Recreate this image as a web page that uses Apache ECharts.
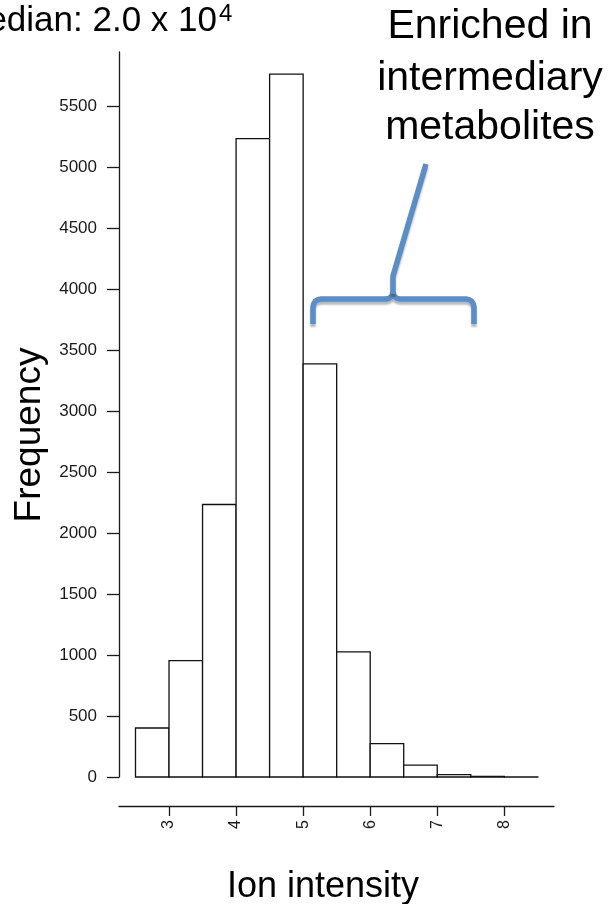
<!DOCTYPE html>
<html>
<head>
<meta charset="utf-8">
<script src="https://cdn.jsdelivr.net/npm/echarts@6/dist/echarts.min.js"></script>
<style>
html,body{margin:0;padding:0;background:#fff;}
#chart{width:609px;height:904px;}
</style>
</head>
<body>
<div id="chart"></div>
<script>
// ---- data ----
const binEdges = [2.5, 3, 3.5, 4, 4.5, 5, 5.5, 6, 6.5, 7, 7.5, 8, 8.5];
const counts = [402, 954, 2235, 5236, 5764, 3389, 1027, 273, 98, 19, 5, 1];
const xTicks = [3, 4, 5, 6, 7, 8];
const yTicks = [0, 500, 1000, 1500, 2000, 2500, 3000, 3500, 4000, 4500, 5000, 5500];
const xAxisTitle = 'Ion intensity';
const yAxisTitle = 'Frequency';
const medianText = 'Median: 2.0 x 10';
const medianExp = '4';
const noteLines = ['Enriched in', 'intermediary', 'metabolites'];

const histData = counts.map((c, i) => [binEdges[i], binEdges[i + 1], c]);

const FONT = '"Liberation Sans", Arial, Helvetica, sans-serif';
const BLUE = '#5b8ec6';
const ink = '#1a1a1a';

const chart = echarts.init(document.getElementById('chart'), null, {renderer: 'canvas'});

const bracketStyle = {
  stroke: BLUE, lineWidth: 5.5, fill: null, lineJoin: 'round', lineCap: 'butt',
  shadowColor: 'rgba(0,0,0,0.28)', shadowBlur: 2, shadowOffsetY: 3
};

chart.setOption({
  animation: false,
  backgroundColor: '#fff',
  grid: {left: 119, right: 55, top: 52, bottom: 127, outerBoundsMode: 'none', containLabel: false},
  xAxis: {
    type: 'value', min: 2.254, max: 8.741, offset: 29, position: 'bottom',
    axisLine: {show: true, onZero: false, lineStyle: {color: ink, width: 1.3}},
    axisTick: {show: true, length: 10, customValues: xTicks, lineStyle: {color: ink, width: 1.3}},
    axisLabel: {show: true, customValues: xTicks, rotate: 90, margin: 14, color: ink,
      fontFamily: FONT, fontSize: 16, formatter: v => String(v)},
    splitLine: {show: false}
  },
  yAxis: {
    type: 'value', min: 0, max: 5946,
    axisLine: {show: true, onZero: false, lineStyle: {color: ink, width: 1.3}},
    axisTick: {show: true, length: 12, customValues: yTicks, lineStyle: {color: ink, width: 1.3}},
    axisLabel: {show: true, customValues: yTicks, margin: 22, color: ink,
      fontFamily: FONT, fontSize: 17, formatter: v => String(v)},
    splitLine: {show: false}
  },
  series: [{
    type: 'custom',
    data: histData,
    encode: {x: [0, 1], y: 2},
    renderItem: function (params, api) {
      const p0 = api.coord([api.value(0), api.value(2)]);
      const p1 = api.coord([api.value(1), 0]);
      return {
        type: 'rect',
        shape: {x: p0[0], y: p0[1], width: p1[0] - p0[0], height: p1[1] - p0[1]},
        style: {fill: '#ffffff', stroke: '#111', lineWidth: 1.3}
      };
    }
  }],
  graphic: [
    {type: 'text', z: 100, x: 217, y: 21, style: {text: medianText, font: '35px ' + FONT,
      fill: '#000', align: 'right', verticalAlign: 'middle'}},
    {type: 'text', z: 100, x: 219, y: 14, style: {text: medianExp, font: '24px ' + FONT,
      fill: '#000', align: 'left', verticalAlign: 'middle'}},
    {type: 'text', z: 100, x: 490, y: 27, style: {text: noteLines[0], font: '41px ' + FONT,
      fill: '#000', align: 'center', verticalAlign: 'middle'}},
    {type: 'text', z: 100, x: 490, y: 79, style: {text: noteLines[1], font: '41px ' + FONT,
      fill: '#000', align: 'center', verticalAlign: 'middle'}},
    {type: 'text', z: 100, x: 490, y: 128, style: {text: noteLines[2], font: '41px ' + FONT,
      fill: '#000', align: 'center', verticalAlign: 'middle'}},
    {type: 'rect', z: 99, shape: {x: 0, y: 338, width: 58, height: 208}, style: {fill: '#fff'}},
    {type: 'text', z: 100, x: 30, y: 435, rotation: Math.PI / 2,
      style: {text: yAxisTitle, font: '37px ' + FONT, fill: '#000', align: 'center', verticalAlign: 'middle'}},
    {type: 'text', z: 100, x: 323, y: 887, style: {text: xAxisTitle, font: '36px ' + FONT,
      fill: '#000', align: 'center', verticalAlign: 'middle'}},
    // bracket annotation
    {type: 'polyline', z: 100, shape: {points: [
      [313, 324], [313, 307], [313.6, 303.9], [315.3, 301.3], [317.9, 299.6], [321, 299],
      [386, 299], [389, 298.4], [391.5, 296.5], [393, 293],
      [394.5, 296.5], [397, 298.4], [400, 299],
      [466, 299], [469.1, 299.6], [471.7, 301.3], [473.4, 303.9], [474, 307], [474, 324]
    ]}, style: bracketStyle},
    {type: 'polyline', z: 100, shape: {points: [[393, 294], [393, 276], [426, 164]]}, style: bracketStyle}
  ]
});
</script>
</body>
</html>
